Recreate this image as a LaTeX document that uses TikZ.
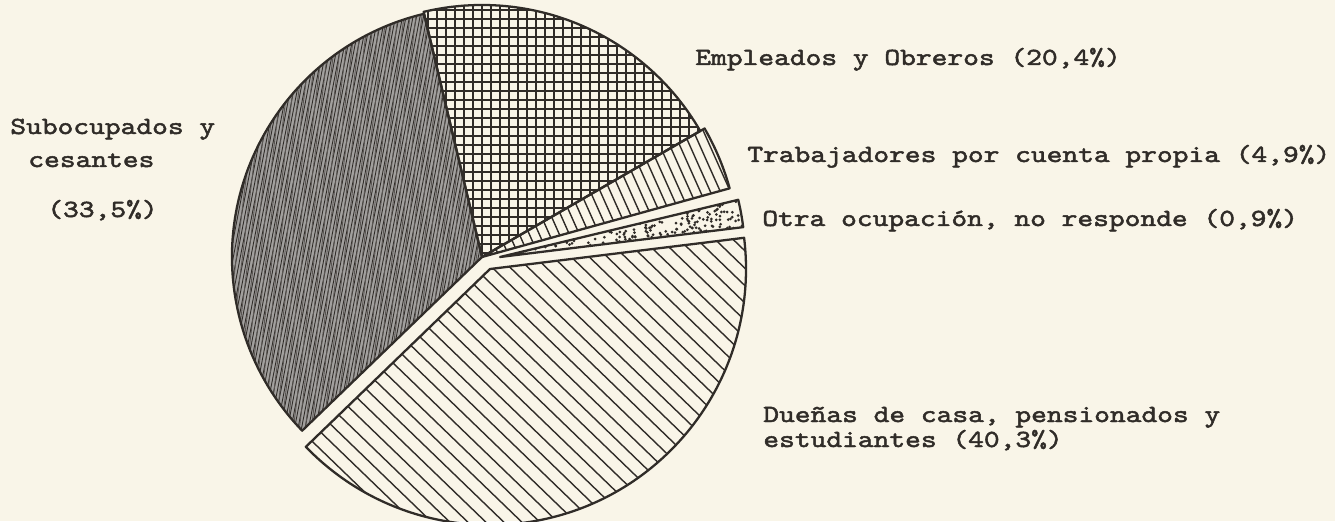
\documentclass[tikz,border=0pt]{standalone}
\usepackage{fontspec}
\newfontfamily\twfont{lmmono10-regular.otf}[FakeStretch=1.22,FakeBold=2]
\definecolor{paper}{RGB}{249,245,232}
\definecolor{ink}{RGB}{48,44,40}
\tikzset{
  rim/.style={draw=ink, line width=1.3pt, line join=round},
  hatch/.style={draw=ink, line width=0.8pt},
  fine/.style={draw=ink, line width=0.5pt},
  lbl/.style={anchor=base west, inner sep=0pt, text=ink, font=\twfont\fontsize{14}{14}\selectfont}
}
\begin{document}
\begin{tikzpicture}[x=0.02cm, y=0.02cm]
  \fill[paper] (0,0) rectangle (1335,521);
  \useasboundingbox (0,0) rectangle (1335,521);
  \coordinate (C) at (482,264);
  \coordinate (Co) at (500,264);
  \coordinate (Cd) at (490,252);

  % subocupados y cesantes
  \begin{scope}
    \clip (C) -- ++(103.4:250) arc[start angle=103.4, end angle=224, radius=250] -- cycle;
    \fill[ink!45] (200,0) rectangle (500,521);
    \foreach \i in {0,3.5,...,500} \draw[fine] (\i,0) -- ++(79:560);
    \foreach \i in {0,6,...,500} \draw[fine, ink!80] (\i,0) -- ++(83:560);
  \end{scope}

  % empleados y obreros
  \begin{scope}
    \clip (C) -- ++(30:252) arc[start angle=30, end angle=103.4, radius=252] -- cycle;
    \foreach \i in {410,419,...,740} \draw[hatch, line width=0.9pt] (\i,250) -- (\i,521);
    \foreach \j in {250,259,...,521} \draw[hatch, line width=0.9pt] (410,\j) -- (740,\j);
  \end{scope}

  % trabajadores por cuenta propia
  \begin{scope}
    \clip (C) -- ++(15.5:257) arc[start angle=15.5, end angle=30, radius=257] -- cycle;
    \foreach \i in {400,410,...,790} \draw[hatch] (\i,420) -- ++(-66:200);
  \end{scope}

  % otra ocupacion
  \begin{scope}
    \clip (Co) -- ++(7:245) arc[start angle=7, end angle=13.5, radius=245] -- cycle;
    \pgfmathsetseed{11}
    \foreach \k in {1,...,130}{
      \pgfmathsetmacro\rr{30+215*sqrt(rnd)}
      \pgfmathsetmacro\aa{7+6.5*rnd}
      \fill[ink] (Co) ++(\aa:\rr) circle[radius=1.5];
    }
  \end{scope}

  % duenas de casa
  \begin{scope}
    \clip (Cd) -- ++(-136:256) arc[start angle=-136, end angle=7, radius=256] -- cycle;
    \foreach \i in {-60,-42,...,780} \draw[hatch] (\i,300) -- ++(-44:500);
  \end{scope}

  % contornos
  \draw[rim] (C) -- ++(103.4:250) arc[start angle=103.4, end angle=224, radius=250] -- cycle;
  \draw[rim] (C) -- ++(30:252) arc[start angle=30, end angle=103.4, radius=252] -- cycle;
  \draw[rim] (C) -- ++(15.5:257) arc[start angle=15.5, end angle=30, radius=257] -- cycle;
  \draw[rim] (Co) -- ++(7:245) arc[start angle=7, end angle=13.5, radius=245] -- cycle;
  \draw[rim] (Cd) -- ++(-136:256) arc[start angle=-136, end angle=7, radius=256] -- cycle;

  % rotulos
  \node[lbl] (empl) at (695,456) {Empleados y Obreros (20,4\%)};
  \node[lbl] (trab) at (747,359) {Trabajadores por cuenta propia (4,9\%)};
  \node[lbl] (otra) at (762,295) {Otra ocupación, no responde (0,9\%)};
  \node[lbl] (sub1) at (10,387) {Subocupados y};
  \node[lbl] (sub2) at (28,354) {cesantes};
  \node[lbl] (sub3) at (47,304) {(33,5\%)};
  \node[lbl] (duen1) at (763,99) {Dueñas de casa, pensionados y};
  \node[lbl] (duen2) at (763,74) {estudiantes (40,3\%)};
\end{tikzpicture}
\end{document}
